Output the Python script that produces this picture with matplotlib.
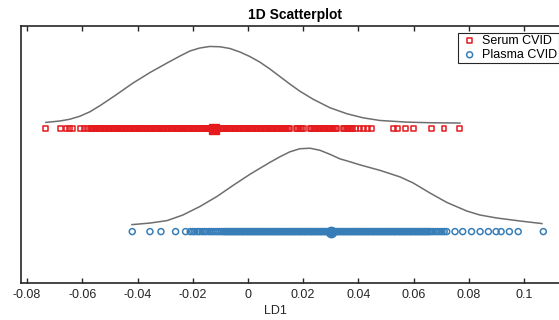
import matplotlib
matplotlib.use('Agg')
import matplotlib.pyplot as plt

plt.rcParams['font.family'] = ['Liberation Sans', 'DejaVu Sans']

# LD1 scores, one list per sample type
serum_ld1 = [
    -0.0734, -0.0679, -0.0659, -0.0647, -0.0635, -0.0606, -0.0594, -0.0582,
    -0.0572, -0.0567, -0.0562, -0.0558, -0.0553, -0.0548, -0.0543, -0.0539, -0.0534, -0.0529,
    -0.0524, -0.0520, -0.0515, -0.0510, -0.0505, -0.0501, -0.0496, -0.0491, -0.0486, -0.0482,
    -0.0477, -0.0472, -0.0467, -0.0463, -0.0458, -0.0453, -0.0448, -0.0444, -0.0439, -0.0434,
    -0.0429, -0.0425, -0.0420, -0.0415, -0.0410, -0.0406, -0.0401, -0.0396, -0.0391, -0.0387,
    -0.0382, -0.0377, -0.0372, -0.0368, -0.0363, -0.0358, -0.0353, -0.0349, -0.0344, -0.0339,
    -0.0334, -0.0330, -0.0325, -0.0320, -0.0315, -0.0311, -0.0306, -0.0301, -0.0296, -0.0292,
    -0.0287, -0.0282, -0.0277, -0.0273, -0.0268, -0.0263, -0.0258, -0.0254, -0.0249, -0.0244,
    -0.0239, -0.0235, -0.0230, -0.0225, -0.0220, -0.0216, -0.0211, -0.0206, -0.0201, -0.0197,
    -0.0192, -0.0187, -0.0182, -0.0178, -0.0173, -0.0168, -0.0163, -0.0159, -0.0154, -0.0149,
    -0.0144, -0.0140, -0.0135, -0.0130, -0.0125, -0.0121, -0.0116, -0.0111, -0.0106, -0.0102,
    -0.0097, -0.0092, -0.0087, -0.0083, -0.0078, -0.0073, -0.0068, -0.0064, -0.0059, -0.0054,
    -0.0049, -0.0045, -0.0040, -0.0035, -0.0030, -0.0026, -0.0021, -0.0016, -0.0011, -0.0007,
    -0.0002, 0.0003, 0.0008, 0.0012, 0.0017, 0.0022, 0.0027, 0.0031, 0.0036, 0.0041,
    0.0046, 0.0050, 0.0055, 0.0060, 0.0065, 0.0069, 0.0074, 0.0079, 0.0084, 0.0088,
    0.0093, 0.0098, 0.0103, 0.0107, 0.0112, 0.0117, 0.0122, 0.0126, 0.0131, 0.0136,
    0.0141, 0.0146, 0.0151, 0.0175, 0.0180, 0.0185, 0.0189, 0.0194, 0.0202, 0.0226,
    0.0231, 0.0236, 0.0240, 0.0245, 0.0250, 0.0255, 0.0259, 0.0264, 0.0269, 0.0274,
    0.0278, 0.0283, 0.0288, 0.0293, 0.0297, 0.0302, 0.0307, 0.0312, 0.0316, 0.0321,
    0.0345, 0.0350, 0.0355, 0.0360, 0.0364, 0.0369, 0.0374, 0.0379,
    0.0390, 0.0406, 0.0420, 0.0434, 0.0448,
    0.0526, 0.0541, 0.0571, 0.0599, 0.0666, 0.0710, 0.0766,
]
plasma_ld1 = [
    -0.0419, -0.0355, -0.0315, -0.0262, -0.0226,
    -0.0209, -0.0200, -0.0193, -0.0183, -0.0176, -0.0166, -0.0158, -0.0151, -0.0141, -0.0133,
    -0.0126, -0.0117, -0.0110, -0.0102, -0.0095,
    -0.0089, -0.0084, -0.0079, -0.0075, -0.0070, -0.0065, -0.0060, -0.0056, -0.0051, -0.0046,
    -0.0041, -0.0037, -0.0032, -0.0027, -0.0022, -0.0018, -0.0013, -0.0008, -0.0003, 0.0001,
    0.0006, 0.0011, 0.0016, 0.0020, 0.0025, 0.0030, 0.0035, 0.0039, 0.0044, 0.0049,
    0.0054, 0.0058, 0.0063, 0.0068, 0.0073, 0.0077, 0.0082, 0.0087, 0.0092, 0.0096,
    0.0101, 0.0106, 0.0111, 0.0115, 0.0120, 0.0125, 0.0130, 0.0134, 0.0139, 0.0144,
    0.0149, 0.0153, 0.0158, 0.0163, 0.0168, 0.0172, 0.0177, 0.0182, 0.0187, 0.0191,
    0.0196, 0.0201, 0.0206, 0.0210, 0.0215, 0.0220, 0.0225, 0.0229, 0.0234, 0.0239,
    0.0244, 0.0248, 0.0253, 0.0258, 0.0263, 0.0267, 0.0272, 0.0277, 0.0282, 0.0286,
    0.0291, 0.0296, 0.0301, 0.0305, 0.0310, 0.0315, 0.0320, 0.0324, 0.0329, 0.0334,
    0.0339, 0.0343, 0.0348, 0.0353, 0.0358, 0.0362, 0.0367, 0.0372, 0.0377, 0.0381,
    0.0386, 0.0391, 0.0396, 0.0400, 0.0405, 0.0410, 0.0415, 0.0419, 0.0424, 0.0429,
    0.0434, 0.0438, 0.0443, 0.0448, 0.0453, 0.0457, 0.0462, 0.0467, 0.0472, 0.0476,
    0.0481, 0.0486, 0.0491, 0.0495, 0.0500, 0.0505, 0.0510, 0.0514, 0.0519, 0.0524,
    0.0529, 0.0533, 0.0538, 0.0543, 0.0548, 0.0552, 0.0557, 0.0562, 0.0567, 0.0571,
    0.0576, 0.0581, 0.0586, 0.0590, 0.0595, 0.0600, 0.0605, 0.0609, 0.0614, 0.0619,
    0.0624, 0.0628, 0.0633, 0.0638, 0.0643, 0.0647, 0.0652, 0.0657, 0.0662,
    0.0670, 0.0679, 0.0686, 0.0695, 0.0703, 0.0711,
    0.0720, 0.0750, 0.0778, 0.0810, 0.0841, 0.0871, 0.0899, 0.0917, 0.0947, 0.0979, 0.1070,
]
serum_mean = -0.0123
plasma_mean = 0.0301

# kernel density outlines (height above each row)
serum_kde_x = [-0.0732, -0.0681, -0.0645, -0.0609, -0.0572, -0.0536, -0.0482, -0.0417,
               -0.0355, -0.0293, -0.0246, -0.0210, -0.0174, -0.0138, -0.0101, -0.0065,
               -0.0029, 0.0007, 0.0043, 0.0080, 0.0116, 0.0152, 0.0188, 0.0236, 0.0297,
               0.0359, 0.0417, 0.0478, 0.0576, 0.0659, 0.0768]
serum_kde_y = [0.062, 0.076, 0.093, 0.122, 0.166, 0.225, 0.322, 0.444,
               0.547, 0.640, 0.708, 0.757, 0.786, 0.801, 0.798, 0.781,
               0.747, 0.703, 0.649, 0.581, 0.508, 0.435, 0.366, 0.288, 0.205,
               0.146, 0.107, 0.081, 0.065, 0.059, 0.056]
plasma_kde_x = [-0.0420, -0.0355, -0.0293, -0.0236, -0.0174, -0.0112, -0.0054, 0.0007,
                0.0043, 0.0080, 0.0116, 0.0152, 0.0188, 0.0225, 0.0261, 0.0297, 0.0333,
                0.0370, 0.0406, 0.0478, 0.0551, 0.0598, 0.0659, 0.0721, 0.0793, 0.0841,
                0.0902, 0.0986, 0.1065]
plasma_kde_y = [0.068, 0.083, 0.107, 0.161, 0.244, 0.342, 0.449, 0.557,
                0.615, 0.674, 0.728, 0.776, 0.806, 0.811, 0.791, 0.752, 0.708,
                0.679, 0.649, 0.596, 0.532, 0.474, 0.376, 0.283, 0.200, 0.161,
                0.132, 0.103, 0.078]

xticks = [-0.08, -0.06, -0.04, -0.02, 0, 0.02, 0.04, 0.06, 0.08, 0.1]
xtick_labels = ['-0.08', '-0.06', '-0.04', '-0.02', '0', '0.02', '0.04', '0.06', '0.08', '0.1']

red = '#e41a1c'
blue = '#377eb8'
dark = '#262626'

fig = plt.figure(figsize=(5.59, 3.2), dpi=100)
# axes run past the right edge of the figure
ax = fig.add_axes([21 / 559, 37 / 320, 548 / 559, 257 / 320])

serum_row = 1
plasma_row = 0

ax.plot(serum_kde_x, [serum_row + v for v in serum_kde_y], color='#6e6e6e', lw=1.1)
ax.plot(plasma_kde_x, [plasma_row + v for v in plasma_kde_y], color='#6e6e6e', lw=1.1)

ax.scatter(serum_ld1, [serum_row] * len(serum_ld1), s=3.5 ** 2, marker='s',
           facecolors='none', edgecolors=red, linewidths=1.1, label='Serum CVID')
ax.scatter(plasma_ld1, [plasma_row] * len(plasma_ld1), s=4.3 ** 2, marker='o',
           facecolors='none', edgecolors=blue, linewidths=1.1, label='Plasma CVID')
ax.plot([serum_mean], [serum_row], 's', ms=7, color=red)
ax.plot([plasma_mean], [plasma_row], 'o', ms=7.5, color=blue)

ax.set_xlim(-0.0822, 0.1163)
ax.set_ylim(-0.5, 2.0)
ax.set_yticks([])
ax.set_xticks(xticks)
ax.set_xticklabels(xtick_labels)
ax.tick_params(axis='x', direction='in', length=3.5, width=1.0, colors=dark,
               labelsize=9, top=True, pad=4)
for s in ax.spines.values():
    s.set_color(dark)
    s.set_linewidth(1.2)

ax.set_title('1D Scatterplot', fontsize=10, fontweight='bold', color='black', pad=5)
ax.set_xlabel('LD1', fontsize=9, color=dark)
ax.xaxis.set_label_coords(0.4635, -0.085)

leg = ax.legend(loc='upper left', bbox_to_anchor=(0.797, 0.974), fontsize=9,
                frameon=True, fancybox=False, framealpha=1, borderpad=0.15,
                labelspacing=0.2, handlelength=1.6, handletextpad=0.2,
                borderaxespad=0, scatterpoints=1)
leg.get_frame().set_edgecolor(dark)
leg.get_frame().set_linewidth(0.8)

plt.savefig('out.png', dpi=100)
